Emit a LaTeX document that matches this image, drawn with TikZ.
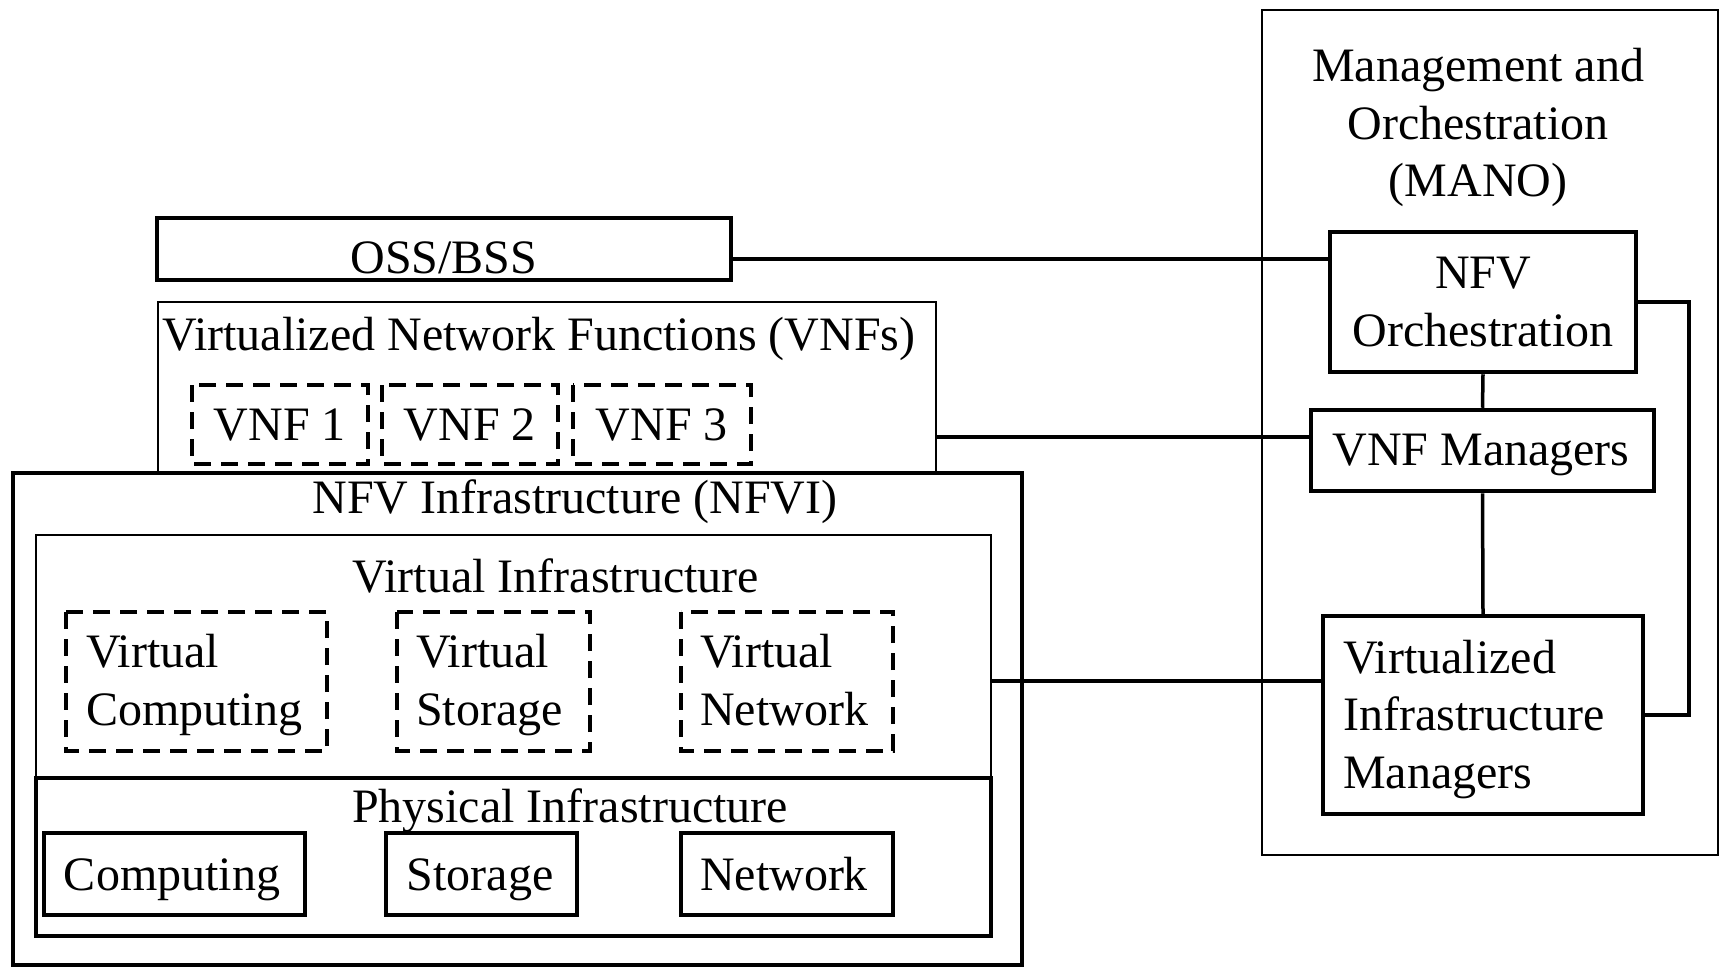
\documentclass[tikz,border=0pt]{standalone}
\usepackage{fontspec}
\setmainfont{Liberation Serif}
\begin{document}
\begin{tikzpicture}[x=1pt,y=-1pt,
  every node/.style={font=\fontsize{48}{57.5}\selectfont, inner sep=0pt},
  thickbox/.style={draw, line width=4.5pt, fill=white},
  thinbox/.style={draw, line width=2pt, fill=white},
  dashbox/.style={draw, line width=4pt, dash pattern=on 17pt off 10pt},
  conn/.style={line width=4pt},
  ctxt/.style={anchor=base},
  ltxt/.style={anchor=base west}]
\useasboundingbox (0,0) rectangle (1723,967);
% MANO
\draw[thinbox] (1262,10) rectangle (1718,855);
\node[ctxt] (mano1) at (1478,81) {Management and};
\node[ctxt] (mano2) at (1478,139) {Orchestration};
\node[ctxt] (mano3) at (1478,196) {(MANO)};
% OSS/BSS
\draw[thickbox] (157,218) rectangle (731,280);
\coordinate (oss) at (731,259);
\node[ctxt] (osst) at (444,273) {OSS/BSS};
% VNFs
\draw[thinbox] (158,302) rectangle (936,473);
\coordinate (vnfs) at (936,437);
\node[ctxt] (vnfst) at (539,350) {Virtualized Network Functions (VNFs)};
\draw[dashbox] (192,385) rectangle (368,464);
\draw[dashbox] (382,385) rectangle (558,464);
\draw[dashbox] (573,385) rectangle (751,464);
\node[ctxt] (v1) at (280,440) {VNF 1};
\node[ctxt] (v2) at (470,440) {VNF 2};
\node[ctxt] (v3) at (662,440) {VNF 3};
% NFVI
\draw[thickbox] (13,473) rectangle (1022,965);
\node[ctxt] (nfvit) at (575,513) {NFV Infrastructure (NFVI)};
\draw[thinbox] (36,535) rectangle (991,778);
\coordinate (vi) at (991,681);
\node[ctxt] (vit) at (556,592) {Virtual Infrastructure};
\draw[dashbox] (66,612) rectangle (327,751);
\draw[dashbox] (397,612) rectangle (590,751);
\draw[dashbox] (681,612) rectangle (893,751);
\node[ltxt] (vc1) at (86,667.5) {Virtual};
\node[ltxt] (vc2) at (86,725) {Computing};
\node[ltxt] (vs1) at (416,667.5) {Virtual};
\node[ltxt] (vs2) at (416,725) {Storage};
\node[ltxt] (vn1) at (700,667.5) {Virtual};
\node[ltxt] (vn2) at (700,725) {Network};
\draw[thickbox] (36,778) rectangle (991,936);
\node[ctxt] (pit) at (570,822.5) {Physical Infrastructure};
\draw[thickbox] (44,833) rectangle (305,915);
\draw[thickbox] (386,833) rectangle (577,915);
\draw[thickbox] (681,833) rectangle (893,915);
\node[ctxt] (pc) at (172,890) {Computing};
\node[ctxt] (ps) at (480,890) {Storage};
\node[ctxt] (pn) at (784,890) {Network};
% MANO blocks
\node[thickbox, minimum width=306pt, minimum height=140pt] (nfvo) at (1483,302) {};
\node[ctxt] (nfvo1) at (1483,288.5) {NFV};
\node[ctxt] (nfvo2) at (1483,346) {Orchestration};
\node[thickbox, minimum width=343pt, minimum height=81pt] (vnfm) at (1482.5,450.5) {};
\node[ctxt] (vnfmt) at (1481,465) {VNF Managers};
\node[thickbox, minimum width=320pt, minimum height=198pt] (vim) at (1483,715) {};
\node[ltxt] (vim1) at (1343,673) {Virtualized};
\node[ltxt] (vim2) at (1343,730.5) {Infrastructure};
\node[ltxt] (vim3) at (1343,788) {Managers};
% connectors
\draw[conn] (oss) -- (nfvo.west |- oss);
\draw[conn] (vnfs) -- (vnfm.west |- vnfs);
\draw[conn] (vi) -- (vim.west |- vi);
\draw[line width=3.5pt] (nfvo.south) -- (vnfm.north);
\draw[line width=3.5pt] (vnfm.south) -- (vim.north);
\coordinate (lp1) at (1689,302);
\coordinate (lp2) at (1689,715);
\draw[conn] (nfvo.east |- lp1) -- (lp1) -- (lp2) -- (vim.east |- lp2);
\end{tikzpicture}
\end{document}
